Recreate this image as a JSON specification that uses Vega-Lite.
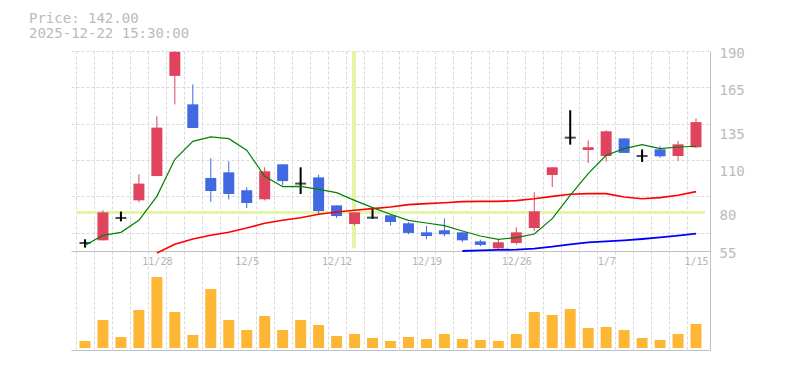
{
  "$schema": "https://vega.github.io/schema/vega-lite/v6.json",
  "width": 639,
  "height": 299,
  "autosize": "none",
  "padding": {"left": 71, "top": 51, "right": 75, "bottom": 20},
  "background": "#ffffff",
  "config": {"view": {"stroke": null}},
  "title": {
    "text": ["Price: 142.00", "2025-12-22 15:30:00"],
    "anchor": "start",
    "frame": "group",
    "font": "DejaVu Sans Mono",
    "fontSize": 14,
    "fontWeight": "normal",
    "color": "#bbbbbb",
    "lineHeight": 15,
    "dx": -42,
    "offset": 5
  },
  "data": {
    "values": [
      {"i": 0, "date": "11/21", "o": 60.4, "h": 62.9, "l": 57.3, "c": 60.4, "dir": "doji", "vol": 7000, "ma5": 58.8, "ma25": null, "ma75": null},
      {"i": 1, "date": "11/25", "o": 62.2, "h": 82.5, "l": 62.2, "c": 81.1, "dir": "up", "vol": 28000, "ma5": 65.6, "ma25": null, "ma75": null},
      {"i": 2, "date": "11/26", "o": 77.3, "h": 81.6, "l": 75.0, "c": 77.3, "dir": "doji", "vol": 11000, "ma5": 67.6, "ma25": null, "ma75": null},
      {"i": 3, "date": "11/27", "o": 89.2, "h": 106.8, "l": 87.9, "c": 100.5, "dir": "up", "vol": 38000, "ma5": 75.7, "ma25": null, "ma75": null},
      {"i": 4, "date": "11/28", "o": 105.6, "h": 145.9, "l": 105.6, "c": 138.3, "dir": "up", "vol": 71000, "ma5": 91.9, "ma25": 53.6, "ma75": null},
      {"i": 5, "date": "12/1", "o": 173.2, "h": 190, "l": 154, "c": 189.4, "dir": "up", "vol": 36000, "ma5": 116.9, "ma25": 59.5, "ma75": null},
      {"i": 6, "date": "12/2", "o": 154, "h": 167.5, "l": 138, "c": 138, "dir": "down", "vol": 13000, "ma5": 129.0, "ma25": 63.1, "ma75": null},
      {"i": 7, "date": "12/3", "o": 104.3, "h": 117.6, "l": 88.1, "c": 95.5, "dir": "down", "vol": 59000, "ma5": 132.0, "ma25": 65.6, "ma75": null},
      {"i": 8, "date": "12/4", "o": 108.1, "h": 115.5, "l": 89.9, "c": 93.5, "dir": "down", "vol": 28000, "ma5": 130.8, "ma25": 67.6, "ma75": null},
      {"i": 9, "date": "12/5", "o": 96, "h": 98, "l": 84, "c": 87.4, "dir": "down", "vol": 18000, "ma5": 123.0, "ma25": 70.5, "ma75": null},
      {"i": 10, "date": "12/8", "o": 89.9, "h": 111.5, "l": 89.2, "c": 108.8, "dir": "up", "vol": 32000, "ma5": 105.4, "ma25": 73.7, "ma75": null},
      {"i": 11, "date": "12/9", "o": 113.5, "h": 113.5, "l": 99.3, "c": 102.2, "dir": "down", "vol": 18000, "ma5": 98.4, "ma25": 75.7, "ma75": null},
      {"i": 12, "date": "12/10", "o": 100.5, "h": 111.5, "l": 93.5, "c": 100.5, "dir": "doji", "vol": 28000, "ma5": 98.6, "ma25": 77.5, "ma75": null},
      {"i": 13, "date": "12/11", "o": 104.7, "h": 106.5, "l": 79.8, "c": 82, "dir": "down", "vol": 23000, "ma5": 96.6, "ma25": 79.8, "ma75": null},
      {"i": 14, "date": "12/12", "o": 85.8, "h": 85.8, "l": 77.3, "c": 78.6, "dir": "down", "vol": 12000, "ma5": 94.4, "ma25": 81.3, "ma75": null},
      {"i": 15, "date": "12/15", "o": 73.2, "h": 81.1, "l": 72.3, "c": 81.1, "dir": "up", "vol": 14000, "ma5": 89.2, "ma25": 82.5, "ma75": null},
      {"i": 16, "date": "12/16", "o": 77.5, "h": 84.3, "l": 76.8, "c": 77.5, "dir": "doji", "vol": 10000, "ma5": 84.3, "ma25": 83.6, "ma75": null},
      {"i": 17, "date": "12/17", "o": 79.1, "h": 79.1, "l": 72.3, "c": 74.6, "dir": "down", "vol": 7000, "ma5": 79.8, "ma25": 84.7, "ma75": null},
      {"i": 18, "date": "12/18", "o": 73.7, "h": 74.5, "l": 66.3, "c": 67.2, "dir": "down", "vol": 11000, "ma5": 75.7, "ma25": 86.3, "ma75": null},
      {"i": 19, "date": "12/19", "o": 67.6, "h": 71.9, "l": 62.9, "c": 65.1, "dir": "down", "vol": 9000, "ma5": 73.9, "ma25": 87.0, "ma75": null},
      {"i": 20, "date": "12/22", "o": 69, "h": 77, "l": 64.9, "c": 66.3, "dir": "down", "vol": 14000, "ma5": 72.1, "ma25": 87.6, "ma75": null},
      {"i": 21, "date": "12/23", "o": 67.6, "h": 67.6, "l": 60.9, "c": 62.2, "dir": "down", "vol": 9000, "ma5": 68.5, "ma25": 88.3, "ma75": 55.0},
      {"i": 22, "date": "12/24", "o": 61.5, "h": 62.7, "l": 58.2, "c": 59.1, "dir": "down", "vol": 8000, "ma5": 65.1, "ma25": 88.5, "ma75": 55.45},
      {"i": 23, "date": "12/25", "o": 56.8, "h": 62.7, "l": 55.9, "c": 60.9, "dir": "up", "vol": 7000, "ma5": 62.9, "ma25": 88.5, "ma75": 55.7},
      {"i": 24, "date": "12/26", "o": 60.4, "h": 71, "l": 59.3, "c": 67.6, "dir": "up", "vol": 14000, "ma5": 64.0, "ma25": 89.0, "ma75": 55.9},
      {"i": 25, "date": "12/29", "o": 70.5, "h": 94.6, "l": 68.5, "c": 81.8, "dir": "up", "vol": 36000, "ma5": 66.5, "ma25": 90.3, "ma75": 56.6},
      {"i": 26, "date": "12/30", "o": 106.3, "h": 111.5, "l": 98.2, "c": 111.5, "dir": "up", "vol": 33000, "ma5": 76.8, "ma25": 91.9, "ma75": 57.9},
      {"i": 27, "date": "1/5", "o": 131.5, "h": 150, "l": 126.8, "c": 131.5, "dir": "doji", "vol": 39000, "ma5": 92.6, "ma25": 93.3, "ma75": 59.5},
      {"i": 28, "date": "1/6", "o": 123.2, "h": 129.7, "l": 114.4, "c": 125, "dir": "up", "vol": 20000, "ma5": 107.2, "ma25": 93.7, "ma75": 60.85},
      {"i": 29, "date": "1/7", "o": 119.1, "h": 136.5, "l": 115.3, "c": 135.8, "dir": "up", "vol": 21000, "ma5": 119.6, "ma25": 93.7, "ma75": 61.5},
      {"i": 30, "date": "1/8", "o": 131, "h": 131, "l": 121.2, "c": 121.2, "dir": "down", "vol": 18000, "ma5": 124.1, "ma25": 91.5, "ma75": 62.2},
      {"i": 31, "date": "1/9", "o": 119.1, "h": 123.6, "l": 115.1, "c": 119.1, "dir": "doji", "vol": 10000, "ma5": 126.8, "ma25": 90.3, "ma75": 63.1},
      {"i": 32, "date": "1/13", "o": 123.6, "h": 125.7, "l": 118, "c": 118.9, "dir": "down", "vol": 8000, "ma5": 124.1, "ma25": 91.0, "ma75": 64.2},
      {"i": 33, "date": "1/14", "o": 119.1, "h": 129.3, "l": 116, "c": 127, "dir": "up", "vol": 14000, "ma5": 125.2, "ma25": 92.6, "ma75": 65.35},
      {"i": 34, "date": "1/15", "o": 125, "h": 144.6, "l": 124.5, "c": 142, "dir": "up", "vol": 24000, "ma5": 125.7, "ma25": 95.1, "ma75": 66.7}
    ]
  },
  "layer": [
    {
      "layer": [
        {
          "mark": {"type": "rule", "color": "#e2f5a8", "strokeWidth": 3},
          "encoding": {
            "x": {"datum": -0.5, "type": "quantitative", "title": null, "scale": {"domain": [-0.5, 34.5], "nice": false, "zero": false}, "axis": null},
            "x2": {"datum": 34.5},
            "y": {"datum": 81, "type": "quantitative", "title": null, "scale": {"domain": [-11.825, 190], "nice": false, "zero": false},
              "axis": {"orient": "left", "values": [67.27, 79.55, 91.82, 104.09, 116.36, 128.64, 140.91, 153.18, 165.45, 177.73, 190], "grid": true, "gridDash": [3, 2], "gridColor": "#d9d9d9", "gridWidth": 1, "labels": false, "ticks": false, "domain": false, "title": null}}
          }
        },
        {
          "mark": {"type": "rule", "color": "#e2f5a8", "strokeWidth": 3},
          "encoding": {
            "x": {"datum": 14.97, "type": "quantitative", "title": null, "scale": {"domain": [-0.5, 34.5], "nice": false, "zero": false}, "axis": null},
            "y": {"datum": 57, "type": "quantitative", "title": null, "scale": {"domain": [-11.825, 190], "nice": false, "zero": false}},
            "y2": {"datum": 189.5}
          }
        }
      ]
    },
    {
      "mark": {"type": "bar", "color": "#fdb735", "size": 11},
      "encoding": {
        "x": {"field": "i", "type": "quantitative", "scale": {"domain": [-0.5, 34.5], "nice": false, "zero": false},
          "axis": {"orient": "bottom", "values": [-0.5, 0.5, 1.5, 2.5, 3.5, 4.5, 5.5, 6.5, 7.5, 8.5, 9.5, 10.5, 11.5, 12.5, 13.5, 14.5, 15.5, 16.5, 17.5, 18.5, 19.5, 20.5, 21.5, 22.5, 23.5, 24.5, 25.5, 26.5, 27.5, 28.5, 29.5, 30.5, 31.5, 32.5, 33.5], "grid": true, "gridDash": [3, 2], "gridColor": "#d9d9d9", "gridWidth": 1, "labels": false, "ticks": false, "domain": true, "domainColor": "#c0c0c0", "domainWidth": 1, "title": null}},
        "y": {"field": "vol", "type": "quantitative", "scale": {"domain": [-2000, 297000], "nice": false, "zero": false}, "axis": null},
        "y2": {"datum": 0}
      }
    },
    {
      "layer": [
        {
          "transform": [{"filter": "datum.dir != 'doji'"}],
          "mark": {"type": "rule", "strokeWidth": 1},
          "encoding": {
            "x": {"field": "i", "type": "quantitative", "title": null, "scale": {"domain": [-0.5, 34.5], "nice": false, "zero": false},
              "axis": {"orient": "bottom", "offset": -99, "values": [4, 9, 14, 19, 24, 29, 34],
                "labelExpr": "datum.value == 4 ? '11/28' : datum.value == 9 ? '12/5' : datum.value == 14 ? '12/12' : datum.value == 19 ? '12/19' : datum.value == 24 ? '12/26' : datum.value == 29 ? '1/7' : '1/15'",
                "grid": false, "ticks": false, "domain": true, "domainColor": "#c0c0c0", "domainWidth": 1,
                "labelFont": "DejaVu Sans Mono", "labelFontSize": 10, "labelColor": "#b4b4b4", "labelPadding": 5,
                "labelFlush": false, "labelOverlap": false, "labelBound": false, "title": null}},
            "y": {"field": "l", "type": "quantitative", "title": null, "scale": {"domain": [-11.825, 190], "nice": false, "zero": false},
              "axis": {"orient": "right", "values": [55, 80, 110, 135, 165, 190], "grid": false, "ticks": false, "domain": true, "domainColor": "#c0c0c0", "domainWidth": 1,
                "labelFont": "DejaVu Sans Mono", "labelFontSize": 14, "labelColor": "#bbbbbb", "labelPadding": 9, "labelOffset": 2,
                "labelOverlap": false, "labelBound": false, "labelFlush": false, "title": null}},
            "y2": {"field": "h"},
            "color": {"field": "dir", "type": "nominal", "scale": {"domain": ["up", "down", "doji"], "range": ["#e0435e", "#4169e1", "#000000"]}, "legend": null}
          }
        },
        {
          "transform": [{"filter": "datum.dir == 'doji'"}],
          "mark": {"type": "rule", "strokeWidth": 2, "color": "#000000"},
          "encoding": {
            "x": {"field": "i", "type": "quantitative", "title": null, "scale": {"domain": [-0.5, 34.5], "nice": false, "zero": false}},
            "y": {"field": "l", "type": "quantitative", "title": null, "scale": {"domain": [-11.825, 190], "nice": false, "zero": false}},
            "y2": {"field": "h"}
          }
        },
        {
          "transform": [{"filter": "datum.dir != 'doji'"}],
          "mark": {"type": "bar", "size": 11},
          "encoding": {
            "x": {"field": "i", "type": "quantitative", "title": null, "scale": {"domain": [-0.5, 34.5], "nice": false, "zero": false}},
            "y": {"field": "o", "type": "quantitative", "title": null, "scale": {"domain": [-11.825, 190], "nice": false, "zero": false}},
            "y2": {"field": "c"},
            "color": {"field": "dir", "type": "nominal", "scale": {"domain": ["up", "down", "doji"], "range": ["#e0435e", "#4169e1", "#000000"]}, "legend": null}
          }
        },
        {
          "transform": [{"filter": "datum.dir == 'doji'"}],
          "mark": {"type": "tick", "orient": "horizontal", "size": 11, "thickness": 2, "color": "#000000"},
          "encoding": {
            "x": {"field": "i", "type": "quantitative", "title": null, "scale": {"domain": [-0.5, 34.5], "nice": false, "zero": false}},
            "y": {"field": "o", "type": "quantitative", "title": null, "scale": {"domain": [-11.825, 190], "nice": false, "zero": false}}
          }
        },
        {
          "mark": {"type": "line", "color": "#ff0000", "strokeWidth": 1.6},
          "encoding": {
            "x": {"field": "i", "type": "quantitative", "title": null, "scale": {"domain": [-0.5, 34.5], "nice": false, "zero": false}},
            "y": {"field": "ma25", "type": "quantitative", "title": null, "scale": {"domain": [-11.825, 190], "nice": false, "zero": false}}
          }
        },
        {
          "mark": {"type": "line", "color": "#0000ff", "strokeWidth": 1.8},
          "encoding": {
            "x": {"field": "i", "type": "quantitative", "title": null, "scale": {"domain": [-0.5, 34.5], "nice": false, "zero": false}},
            "y": {"field": "ma75", "type": "quantitative", "title": null, "scale": {"domain": [-11.825, 190], "nice": false, "zero": false}}
          }
        },
        {
          "mark": {"type": "line", "color": "#008000", "strokeWidth": 1.2},
          "encoding": {
            "x": {"field": "i", "type": "quantitative", "title": null, "scale": {"domain": [-0.5, 34.5], "nice": false, "zero": false}},
            "y": {"field": "ma5", "type": "quantitative", "title": null, "scale": {"domain": [-11.825, 190], "nice": false, "zero": false}}
          }
        }
      ]
    }
  ],
  "resolve": {"scale": {"y": "independent"}, "axis": {"x": "independent", "y": "independent"}}
}
